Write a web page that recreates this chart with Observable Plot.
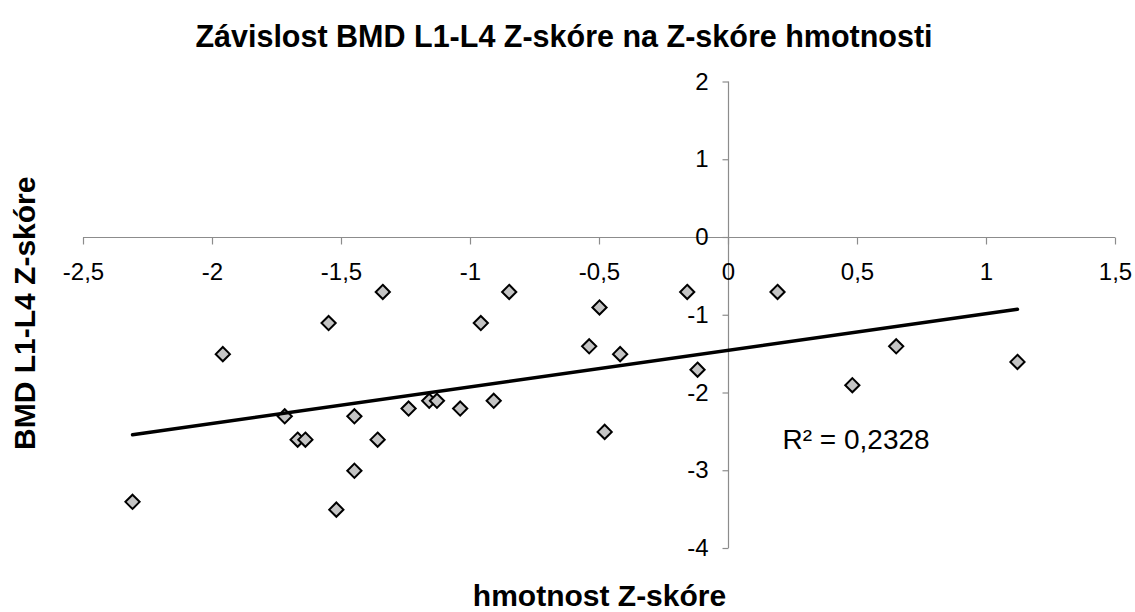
<!DOCTYPE html>
<html>
<head>
<meta charset="utf-8">
<script src="https://cdn.jsdelivr.net/npm/d3@7"></script>
<script src="https://cdn.jsdelivr.net/npm/@observablehq/plot@0.6"></script>
<style>
  html, body { margin: 0; padding: 0; background: #fff; }
  body { width: 1135px; height: 612px; overflow: hidden; font-family: "Liberation Sans", Arial, sans-serif; }
  #title { height: 60px; box-sizing: border-box; padding-top: 19px; line-height: 30px;
           font: bold 30.5px "Liberation Sans", Arial, sans-serif; text-align: center; padding-right: 7px; color: #000; }
  #chart svg { display: block; }
</style>
</head>
<body>
<div id="title">Závislost BMD L1-L4 Z-skóre na Z-skóre hmotnosti</div>
<div id="chart"></div>
<script>
// Data
const weightZ = [-1.34, -1.55, -1.96, -1.72, -1.45, -1.67, -1.64, -1.36, -1.45, -1.52,
                 -2.31, -1.24, -1.16, -1.13, -1.04, -0.85, -0.96, -0.91, -0.50, -0.54,
                 -0.42, -0.48, -0.16, -0.12, 0.19, 0.65, 0.48, 1.12];
const bmdZ    = [-0.7, -1.1, -1.5, -2.3, -2.3, -2.6, -2.6, -2.6, -3.0, -3.5,
                 -3.4, -2.2, -2.1, -2.1, -2.2, -0.7, -1.1, -2.1, -0.9, -1.4,
                 -1.5, -2.5, -0.7, -1.7, -0.7, -1.4, -1.9, -1.6];
const xTicks = [-2.5, -2, -1.5, -1, -0.5, 0, 0.5, 1, 1.5];
const xTickLabels = ["-2,5", "-2", "-1,5", "-1", "-0,5", "0", "0,5", "1", "1,5"];
const yTicks = [-4, -3, -2, -1, 0, 1, 2];
const yTickLabels = ["-4", "-3", "-2", "-1", "0", "1", "2"];
const xTitle = "hmotnost Z-skóre";
const yTitle = "BMD L1-L4 Z-skóre";
const r2Label = "R² = 0,2328";

const points = weightZ.map((x, i) => ({x, y: bmdZ[i]}));
const font = "'Liberation Sans', Arial, sans-serif";

const tickDown = {draw(ctx) { ctx.moveTo(0, 0); ctx.lineTo(0, 7); }};
const tickLeft = {draw(ctx) { ctx.moveTo(0, 0); ctx.lineTo(-6, 0); }};

const chart = Plot.plot({
  width: 1135,
  height: 552,
  marginTop: 21.5,
  marginBottom: 64,
  marginLeft: 83,
  marginRight: 20,
  style: {fontFamily: font, background: "#fff", color: "#000", overflow: "visible"},
  x: {domain: [xTicks[0], xTicks[xTicks.length - 1]], axis: null},
  y: {domain: [yTicks[0], yTicks[yTicks.length - 1]], axis: null},
  marks: [
    Plot.ruleY([0], {stroke: "#8c8c8c", strokeWidth: 1.2}),
    Plot.ruleX([0], {stroke: "#8c8c8c", strokeWidth: 1.2}),
    Plot.dot(xTicks, {x: d => d, y: 0, symbol: tickDown, stroke: "#8c8c8c", fill: "none", strokeWidth: 1.2}),
    Plot.dot(yTicks, {x: 0, y: d => d, symbol: tickLeft, stroke: "#8c8c8c", fill: "none", strokeWidth: 1.2}),
    Plot.text(xTicks, {x: d => d, y: 0, text: (d, i) => xTickLabels[i], dy: 42, lineAnchor: "bottom",
      fontSize: 24, fill: "#000"}),
    Plot.text(yTicks, {x: 0, y: d => d, text: (d, i) => yTickLabels[i], dx: -20, textAnchor: "end",
      lineAnchor: "middle", fontSize: 24, fill: "#000"}),
    Plot.dot(points, {x: "x", y: "y", symbol: "diamond2", r: 6.4, fill: "#c4c4c4", stroke: "#000", strokeWidth: 2}),
    Plot.linearRegressionY(points, {x: "x", y: "y", ci: 0, stroke: "#000", strokeWidth: 3.5}),
    Plot.text([r2Label], {frameAnchor: "top-left", dx: 699, dy: 366.5, text: d => d, textAnchor: "start",
      lineAnchor: "bottom", fontSize: 28, fill: "#000"}),
    Plot.text([xTitle], {frameAnchor: "bottom", dy: 57, text: d => d, textAnchor: "middle", lineAnchor: "bottom",
      fontSize: 30, fontWeight: "bold", fill: "#000"}),
    Plot.text([yTitle], {frameAnchor: "left", dx: -58, dy: -2, rotate: -90, text: d => d,
      textAnchor: "middle", lineAnchor: "middle", fontSize: 30, fontWeight: "bold", fill: "#000"})
  ]
});
document.getElementById("chart").appendChild(chart);
</script>
</body>
</html>
